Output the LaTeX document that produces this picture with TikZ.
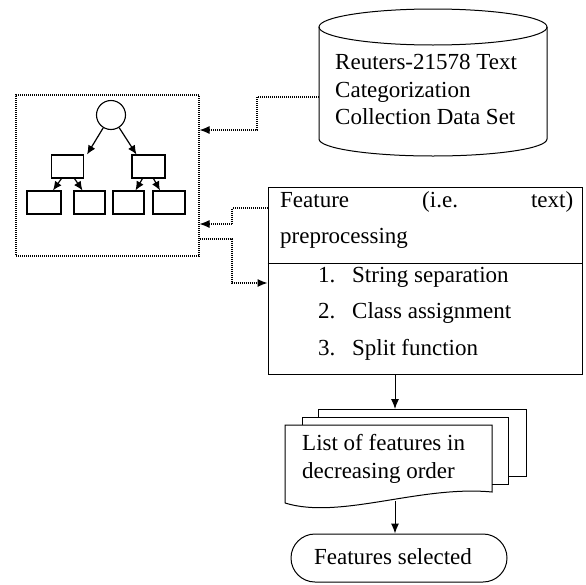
\documentclass[tikz,border=0pt]{standalone}
\usepackage{fontspec}
\setmainfont{Liberation Serif}
\usetikzlibrary{arrows.meta,calc}

\begin{document}
\begin{tikzpicture}[x=1pt,y=-1pt,
  every node/.style={font=\fontsize{23}{27}\selectfont, inner sep=0pt},
  solidline/.style={line width=1pt},
  arr/.style={line width=1pt, -{Latex[length=10pt,width=8pt]}},
  treearr/.style={line width=1.2pt, -{Latex[length=9pt,width=8pt]}},
  dotline/.style={line width=1.1pt, dash pattern=on 1pt off 1pt},
  dotarr/.style={dotline, -{Latex[length=10pt,width=8pt]}},
  treebox/.style={draw, line width=1.1pt, minimum width=#1, minimum height=23pt},
]
\useasboundingbox (0,0) rectangle (586,584);

% ---------- data set cylinder ----------
\draw[solidline] (433,27) ellipse [x radius=114pt, y radius=18pt];
\draw[solidline] (319,27) -- (319,139)
  arc[start angle=180, end angle=360, x radius=114pt, y radius=17pt] -- (547,27);
\coordinate (cylW) at (319,97);
\node[anchor=base west] (cyl1) at (335,69) {Reuters-21578 Text};
\node[anchor=base west] (cyl2) at (335,97) {Categorization};
\node[anchor=base west] (cyl3) at (335,124) {Collection Data Set};

% ---------- decision tree panel ----------
\node[draw, dotline, minimum width=183pt, minimum height=161pt] (tree) at (107.5,175.5) {};
\node[draw, circle, line width=1.1pt, minimum size=29pt] (root) at (111,115) {};
\node[treebox=32pt] (m1) at (67.5,166.5) {};
\node[treebox=33pt] (m2) at (148.5,166.5) {};
\node[treebox=34pt] (b1) at (44,202.5) {};
\node[treebox=31pt] (b2) at (89.5,202.5) {};
\node[treebox=31pt] (b3) at (128.5,202.5) {};
\node[treebox=32pt] (b4) at (169,202.5) {};
\draw[treearr] (root) -- ($(m1.north east)+(3,0)$);
\draw[treearr] (root) -- ($(m2.north west)+(5,0)$);
\draw[treearr] ($(m1.south)+(-6,0)$) -- ($(b1.north)+(9,0)$);
\draw[treearr] ($(m1.south)+(7,0)$) -- ($(b2.north)+(-7,0)$);
\draw[treearr] ($(m2.south)+(-6,0)$) -- ($(b3.north)+(7,0)$);
\draw[treearr] ($(m2.south)+(5,0)$) -- ($(b4.north)+(-9,0)$);

% ---------- preprocessing box ----------
\node[draw, solidline, minimum width=314pt, minimum height=187pt] (fbox) at (425,280.5) {};
\draw[solidline] (fbox.west |- 0,263) -- (fbox.east |- 0,263);
\node[anchor=base west] (fhead) at (280,207) {\makebox[293pt][s]{Feature\hfill(i.e.\hfill text)}};
\node[anchor=base west] (fhead2) at (280,243) {preprocessing};
\node[anchor=base west] (n1) at (318,282) {1.};
\node[anchor=base west] (s1) at (352,282) {String separation};
\node[anchor=base west] (n2) at (318,318) {2.};
\node[anchor=base west] (s2) at (352,318) {Class assignment};
\node[anchor=base west] (n3) at (318,355) {3.};
\node[anchor=base west] (s3) at (352,355) {Split function};

% ---------- dotted links ----------
\coordinate (j1) at (257,130);
\coordinate (j2) at (232,224);
\coordinate (j3) at (232,283);
\coordinate (fOut) at (268,208);
\coordinate (tOut) at (199,239);
\draw[dotarr] (cylW) -| (j1) -- (tree.east |- j1);
\draw[dotarr] (fbox.west |- fOut) -| (j2) -- (tree.east |- j2);
\draw[dotarr] (tree.east |- tOut) -| (j3) -- (fbox.west |- j3);

% ---------- stacked document ----------
\draw[solidline] (318,417) -- (318,409) -- (526,409) -- (526,476) -- (508,476);
\draw[solidline] (302,425) -- (302,417) -- (508,417) -- (508,484) -- (492,484);
\draw[solidline] (285,503) -- (285,425) -- (492,425) -- (492,492)
  .. controls (420,485) and (340,520) .. (285,503);
\node[anchor=base west] (doc1) at (302,450) {List of features in};
\node[anchor=base west] (doc2) at (302,478) {decreasing order};
\coordinate (stackTop) at (395,409);
\coordinate (docBot) at (395,501);
\draw[arr] (fbox.south -| stackTop) -- (stackTop);

% ---------- terminator ----------
\node[draw, solidline, rounded corners=24pt, minimum width=216pt, minimum height=48pt] (term) at (399,558) {};
\node[anchor=base] (termtext) at (393,564) {Features selected};
\draw[arr] (docBot) -- (term.north -| docBot);
\end{tikzpicture}
\end{document}
